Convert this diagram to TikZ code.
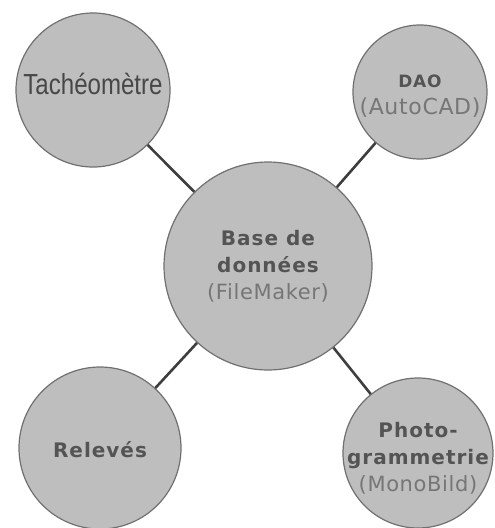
\documentclass[tikz,border=0pt]{standalone}
\usepackage{fontspec}
\usetikzlibrary{positioning}
\newfontfamily\boldlab{DejaVu Sans Bold}[LetterSpace=5]
\newfontfamily\lightlab{DejaVu Sans}[LetterSpace=3]
\newfontfamily\narrowlab{Liberation Sans}[FakeStretch=0.83]
\definecolor{discfill}{RGB}{190,190,190}
\definecolor{discline}{RGB}{112,112,112}
\definecolor{linkcol}{RGB}{62,62,62}
\definecolor{titlecol}{RGB}{84,84,84}
\definecolor{subcol}{RGB}{118,118,118}
\newcommand{\disctitle}[2][20]{{\boldlab\fontsize{#1}{27}\selectfont\color{titlecol}#2}}
\newcommand{\discsub}[2][21]{{\lightlab\fontsize{#1}{27}\selectfont\color{subcol}#2}}

\begin{document}
\begin{tikzpicture}[x=1pt, y=-1pt,
    disc/.style={circle, draw=discline, line width=1.2pt, fill=discfill, inner sep=0pt},
    disctext/.style={align=center, inner sep=0pt, font=\fontsize{20}{27}\selectfont},
    link/.style={draw=linkcol, line width=2.6pt}]
  \useasboundingbox (0,0) rectangle (495,528);

  % the five discs
  \node[disc, minimum size=208pt] (base)  at (268,266) {};
  \node[disc, minimum size=154pt] (tach)  at (93,90)   {};
  \node[disc, minimum size=134pt] (dao)   at (420,92)  {};
  \node[disc, minimum size=162pt] (releve) at (100,448) {};
  \node[disc, minimum size=150pt] (photo) at (418,453) {};

  % their texts
  \node[disctext] (baseT) at (base.center)
    {\disctitle{Base de}\\ \disctitle{données}\\ \discsub{(FileMaker)}};
  \node[disctext, yshift=6pt] (tachT) at (tach.center)
    {{\narrowlab\fontsize{29}{30}\selectfont\color{black!72}Tachéomètre}};
  \node[disctext, yshift=-4pt] (daoT) at (dao.center)
    {\disctitle[17]{DAO}\\ \discsub[22]{(AutoCAD)}};
  \node[disctext, yshift=-2pt] (releveT) at (releve.center)
    {\disctitle{Relevés}};
  \node[disctext, yshift=-5pt] (photoT) at (photo.center)
    {\disctitle{Photo-}\\ \disctitle{grammetrie}\\ \discsub{(MonoBild)}};

  % connectors
  \draw[link] (tach) -- (base);
  \draw[link] (dao) -- (base);
  \draw[link] (releve) -- (base);
  \draw[link] (photo) -- (base);
\end{tikzpicture}
\end{document}
